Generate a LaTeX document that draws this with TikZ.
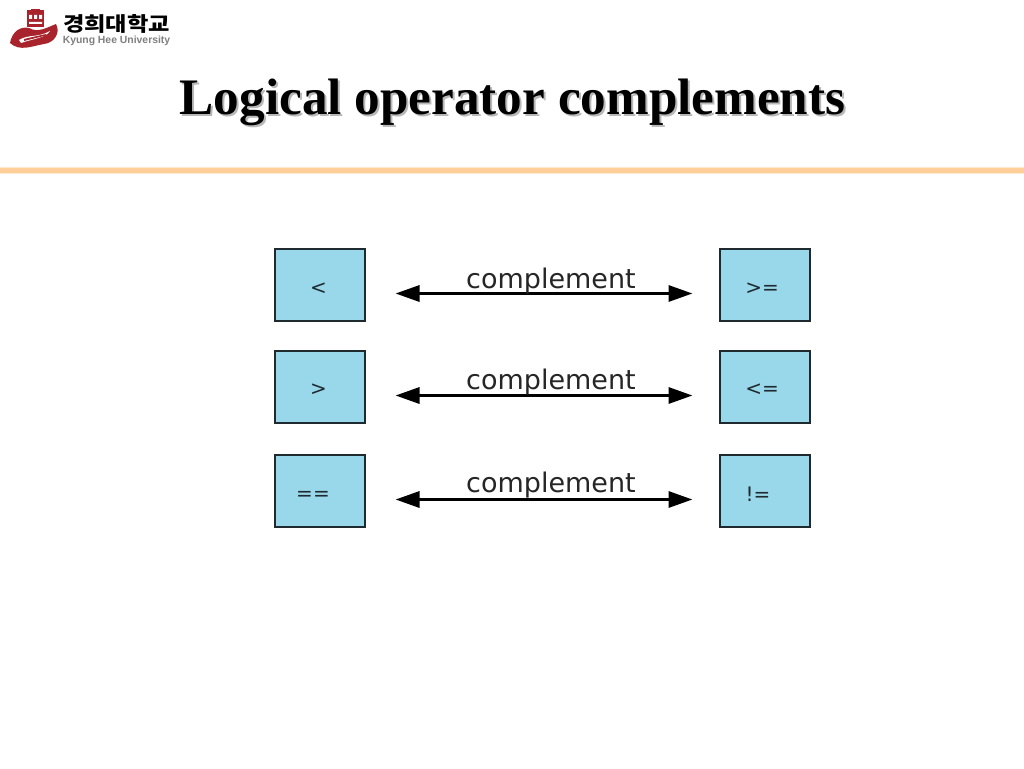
\documentclass[tikz,border=0pt]{standalone}
\usepackage{fontspec}
\setmainfont{Liberation Serif}
\newfontfamily\lblfont{DejaVu Sans}
\newfontfamily\logosans{Liberation Sans}
\newfontfamily\cjk{Noto Sans CJK KR}
\usetikzlibrary{arrows.meta}
\definecolor{boxfill}{HTML}{99D8EA}
\definecolor{boxline}{HTML}{1F2A30}
\definecolor{rulec}{HTML}{FFCF99}
\definecolor{crest}{HTML}{A8232B}
\tikzset{
  x=1pt,y=-1pt,
  opbox/.style={draw=boxline,line width=2pt,fill=boxfill,minimum width=90pt,minimum height=72pt,inner sep=0pt,anchor=north west},
  optext/.style={font=\lblfont\fontsize{20}{20}\selectfont,text=boxline,inner sep=0pt},
  complabel/.style={font=\lblfont\fontsize{27}{27}\selectfont,text=black!85,inner sep=0pt},
  comparrow/.style={line width=3.2pt,{Triangle[length=24pt,width=16pt]}-{Triangle[length=24pt,width=16pt]}},
  titletext/.style={font=\bfseries\fontsize{51.2}{51.2}\selectfont,inner sep=0pt}
}
\begin{document}
\begin{tikzpicture}
\useasboundingbox (0,0) rectangle (1024,768);
\fill[white] (0,0) rectangle (1024,768);
% logo crest
\fill[crest] (27,10) rectangle (44,27);
\fill[crest] (31,9) rectangle (40,12);
\fill[white] (29,15) rectangle (32,19) (34,15) rectangle (37,19) (39,15) rectangle (42,19) (29,22) rectangle (42,24);
\fill[crest] (10,43) .. controls (12,32) and (20,26) .. (29,28) .. controls (38,33) and (46,28) .. (56,24) .. controls (61,33) and (54,43) .. (44,44) .. controls (32,46) and (20,52) .. (10,43) -- cycle;
\fill[white] (19,40) .. controls (28,34) and (38,38) .. (50,31) .. controls (46,38) and (32,39) .. (21,43) -- cycle;
\fill[crest] (24,39) -- (46,34) -- (46,35.5) -- (24,41) -- cycle;
\node[inner sep=0pt,text=black,xscale=1.16,transform shape] (logoko) at (116.5,24) {\cjk\bfseries\fontsize{20}{20}\selectfont 경희대학교};
\node[inner sep=0pt,text=black!50] (logoen) at (116.5,40.5) {\logosans\bfseries\fontsize{10.4}{10.4}\selectfont Kyung Hee University};
% title
\node[titletext,text=black!28] (titleshadow) at (514.5,104) {Logical operator complements};
\node[titletext,text=black] (title) at (512.5,102) {Logical operator complements};
% rule
\fill[rulec!45] (0,167) rectangle (1024,174);
\fill[rulec] (0,168) rectangle (1024,172.5);
% boxes
\node[opbox] (l1) at (273.5,248) {};
\node[opbox] (l2) at (273.5,350) {};
\node[opbox] (l3) at (273.5,454) {};
\node[opbox] (r1) at (718.5,248) {};
\node[opbox] (r2) at (718.5,350) {};
\node[opbox] (r3) at (718.5,454) {};
\node[optext] (tl1) at (318.5,289) {<};
\node[optext] (tl2) at (318.5,390) {>};
\node[optext] (tl3) at (313,496) {==};
\node[optext] (tr1) at (762,289) {>=};
\node[optext] (tr2) at (762,390) {<=};
\node[optext] (tr3) at (758,494) {!=};
% connectors
\foreach \i in {1,2,3}{
  \draw[comparrow,shorten <=30pt,shorten >=26pt] ([yshift=-8.5pt]l\i.east) -- ([yshift=-8.5pt]r\i.west);
}
\node[complabel] (c1) at (551,281.5) {complement};
\node[complabel] (c2) at (551,382.5) {complement};
\node[complabel] (c3) at (551,485.5) {complement};
\end{tikzpicture}
\end{document}
